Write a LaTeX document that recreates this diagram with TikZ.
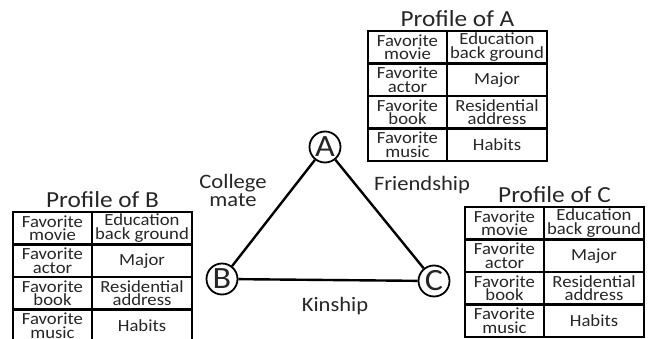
\documentclass[tikz,border=0pt]{standalone}
\usepackage{fontspec}
\setmainfont{Carlito}[FakeStretch=1.1]
\begin{document}
\begin{tikzpicture}[x=1pt,y=-1pt,
  cellbase/.style={draw, line width=2.6pt, inner sep=0pt, outer sep=0pt,
    minimum height=32.5pt, align=center, text=black!85,
    font=\fontsize{17}{13.5}\selectfont},
  lcell/.style={cellbase, minimum width=79pt},
  rcell/.style={cellbase, minimum width=100pt},
  ptitle/.style={font=\fontsize{23}{24}\selectfont, text=black!85, inner sep=0pt},
  person/.style={circle, draw, line width=1.8pt, minimum size=31pt, inner sep=0pt,
    font=\fontsize{31}{31}\selectfont, text=black!85},
  rel/.style={line width=2.4pt},
  rlabel/.style={font=\fontsize{20.5}{18}\selectfont, text=black!85, align=center, inner sep=0pt}]
\useasboundingbox (0,0) rectangle (655,339);
\newcommand\proftable[4]{%
  \node[ptitle] (#1t) at (#2+89.5, #3-12) {Profile of #4};
  \node[lcell, anchor=north west] (#1a1) at (#2, #3) {Favorite\\movie};
  \node[rcell, anchor=north west] (#1b1) at (#2+79, #3) {Education\\back ground};
  \node[lcell, anchor=north west] (#1a2) at (#2, #3+32.5) {Favorite\\actor};
  \node[rcell, anchor=north west] (#1b2) at (#2+79, #3+32.5) {Major};
  \node[lcell, anchor=north west] (#1a3) at (#2, #3+65) {Favorite\\book};
  \node[rcell, anchor=north west] (#1b3) at (#2+79, #3+65) {Residential\\address};
  \node[lcell, anchor=north west] (#1a4) at (#2, #3+97.5) {Favorite\\music};
  \node[rcell, anchor=north west] (#1b4) at (#2+79, #3+97.5) {Habits};
}
\proftable{pa}{368}{31}{A}
\proftable{pb}{13}{212}{B}
\proftable{pc}{465}{207}{C}
\node[person] (A) at (325,147) {A};
\node[person] (B) at (222,279) {B};
\node[person] (C) at (434,281) {C};
\draw[rel] (A) -- (B);
\draw[rel] (A) -- (C);
\draw[rel] (B) -- (C);
\node[rlabel] (lcm) at (233,190) {College\\mate};
\node[rlabel] (lfr) at (422,185) {Friendship};
\node[rlabel] (lki) at (335,306) {Kinship};
\end{tikzpicture}
\end{document}
